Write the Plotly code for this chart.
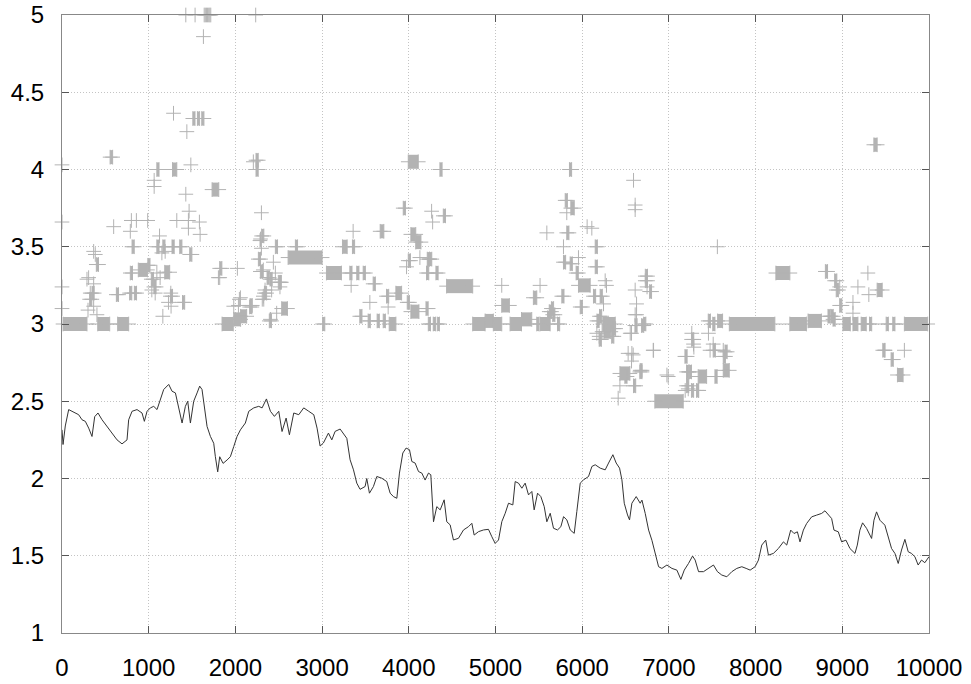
import plotly.graph_objects as go

# ---------------- data ----------------
x_ticks = [0, 1000, 2000, 3000, 4000, 5000, 6000, 7000, 8000, 9000, 10000]
x_tick_labels = ["0", "1000", "2000", "3000", "4000", "5000", "6000", "7000", "8000", "9000", "10000"]
y_ticks = [1, 1.5, 2, 2.5, 3, 3.5, 4, 4.5, 5]
y_tick_labels = ["1", "1.5", "2", "2.5", "3", "3.5", "4", "4.5", "5"]

# black line series
line_x = [0, 12, 38, 77, 115, 154, 192, 231, 269, 308, 346, 377, 415, 462, 519, 577, 635, 692, 750, 769,
          808, 865, 923, 950, 981, 1019, 1058, 1096, 1135, 1173, 1231, 1269, 1308, 1346, 1385, 1423, 1450,
          1481, 1519, 1558, 1588, 1615, 1642, 1673, 1712, 1750, 1769, 1796, 1819, 1858, 1904, 1942, 1981,
          2019, 2058, 2115, 2154, 2212, 2269, 2308, 2358, 2404, 2450, 2500, 2538, 2585, 2623, 2673, 2731,
          2788, 2846, 2904, 2942,
          2977, 3015, 3073, 3112, 3150, 3208, 3254, 3285, 3323, 3362, 3400, 3438, 3496, 3515, 3546, 3592,
          3631, 3688, 3746, 3785, 3823, 3862, 3892, 3931, 3969, 4008, 4035, 4073, 4112, 4150, 4188, 4227,
          4254, 4285, 4323, 4362, 4408, 4438, 4477, 4515, 4573, 4631, 4688, 4727, 4754, 4804, 4862, 4919,
          4958, 4996, 5035, 5073, 5112, 5150, 5200, 5227, 5265, 5304, 5342, 5381, 5419, 5446, 5485, 5523,
          5562, 5592, 5631, 5669, 5715, 5754, 5785, 5823, 5862, 5908, 5938, 5977, 6015, 6073, 6112, 6150,
          6208, 6265, 6304, 6354, 6392, 6431, 6458, 6485, 6523, 6546, 6573, 6623, 6669,
          6689, 6727, 6766, 6804, 6843, 6881, 6919, 6977, 7035, 7092, 7138, 7177, 7226, 7273, 7303, 7342,
          7399, 7457, 7514, 7560, 7610, 7668, 7726, 7783, 7841, 7891, 7937, 7994, 8033, 8071, 8117, 8148,
          8205, 8263, 8321, 8359, 8405, 8443, 8482, 8512, 8551, 8589, 8647, 8704, 8762, 8800, 8839, 8877,
          8904, 8954, 8992, 9042, 9088, 9146, 9173, 9203, 9234, 9280, 9338, 9365, 9395, 9434, 9491, 9530,
          9568, 9607, 9645, 9683, 9722, 9760, 9798, 9837, 9875, 9914, 9952, 10000]
line_y = [2.315, 2.22, 2.34, 2.446, 2.435, 2.424, 2.413, 2.38, 2.37, 2.326, 2.272, 2.40, 2.424, 2.38, 2.337,
          2.293, 2.25, 2.224, 2.25, 2.38, 2.435, 2.446, 2.424, 2.37, 2.435, 2.457, 2.467, 2.446, 2.52, 2.576,
          2.609, 2.565, 2.554, 2.467, 2.359, 2.467, 2.5, 2.359, 2.5, 2.554, 2.598, 2.576, 2.467, 2.337, 2.272,
          2.228, 2.141, 2.043, 2.141, 2.098, 2.12, 2.141, 2.207, 2.272, 2.315, 2.359, 2.435, 2.457, 2.467,
          2.457, 2.515, 2.435, 2.402, 2.435, 2.304, 2.391, 2.283, 2.424, 2.413, 2.457, 2.435, 2.413, 2.326,
          2.21, 2.23, 2.294, 2.25, 2.305, 2.32, 2.284, 2.26, 2.121, 2.056, 1.97, 1.93, 1.948, 2.0, 1.905, 1.948,
          2.013, 2.002, 1.98, 1.905, 1.883, 1.872, 2.035, 2.165, 2.197, 2.186, 2.11, 2.1, 2.045, 2.035, 1.99,
          2.035, 2.024, 1.72, 1.818, 1.797, 1.862, 1.72, 1.70, 1.602, 1.613, 1.667, 1.688, 1.71, 1.634, 1.656,
          1.667, 1.671, 1.623, 1.58, 1.602, 1.721, 1.775, 1.84, 1.829, 1.98, 1.97, 1.937, 1.97, 1.894, 1.916,
          1.797, 1.905, 1.883, 1.818, 1.72, 1.775, 1.678, 1.667, 1.688, 1.753, 1.732, 1.667, 1.645, 1.786,
          1.97, 1.991, 2.013, 2.078, 2.089, 2.067, 2.056, 2.1, 2.154, 2.1, 2.067, 1.991, 1.84, 1.764, 1.732,
          1.84, 1.883, 1.84,
          1.86, 1.774, 1.666, 1.60, 1.515, 1.429, 1.418, 1.44, 1.418, 1.407, 1.347, 1.407, 1.45, 1.498, 1.472,
          1.397, 1.397, 1.418, 1.44, 1.397, 1.375, 1.364, 1.397, 1.418, 1.429, 1.418, 1.407, 1.429, 1.472,
          1.569, 1.601, 1.504, 1.515, 1.547, 1.59, 1.569, 1.666, 1.644, 1.655, 1.59, 1.666, 1.709, 1.752,
          1.763, 1.774, 1.791, 1.763, 1.741, 1.666, 1.655, 1.59, 1.601, 1.547, 1.515, 1.569, 1.666, 1.713,
          1.677, 1.612, 1.73, 1.784, 1.73, 1.698, 1.623, 1.547, 1.515, 1.45, 1.537, 1.606, 1.526, 1.515,
          1.494, 1.44, 1.472, 1.455, 1.494]

# isolated "+" points
pt_x = [0, 0, 0, 0, 1631, 1286, 1440, 1063, 1063, 1486, 1428, 1466, 1458, 1324, 1585, 1458, 1593,
        596, 800, 858, 988, 788, 384, 365, 307, 288, 365, 326, 300, 403, 365, 1036, 1075, 1125, 1190,
        1152, 1094, 1132, 1258, 1255, 1228, 1163, 1819, 1804, 2046, 2035, 1981, 2058, 2023, 2207,
        2300, 2290, 2284, 2300, 2322, 2342, 2322, 2310, 2327, 2418, 2438, 2514, 2461, 2404, 2476,
        3358, 3335, 3551, 3762, 3974, 4128, 4263, 4275, 5072, 5514, 5592, 5784, 5822, 5957, 6057,
        6111, 6246, 6265, 6280, 6592, 6611, 6611, 6748, 6611, 6611, 6169, 6554,
        6627, 6627, 6569, 6819, 6530, 6588, 6569, 6415, 6435, 6573, 6992, 7288, 7511, 7627, 7223,
        6823, 7284, 7475, 6977, 7188, 7341, 7559, 8970, 9180, 9295, 9306, 9123, 9123, 7264, 7456,
        9490, 9716, 6196, 6230,
        1428, 1535, 2234, 1640, 1653, 1666, 1679, 1692, 1704, 1716]
pt_y = [4.03, 3.66, 3.24, 3.10, 4.86, 4.364, 4.245, 3.93, 3.89, 4.03, 3.84, 3.73, 3.67, 3.67, 3.66, 3.62, 3.58,
        3.63, 3.67, 3.67, 3.67, 3.60, 3.45, 3.47, 3.30, 3.29, 3.26, 3.20, 3.09, 3.06, 3.115, 3.22, 3.20, 3.57, 3.47,
        3.46, 3.33, 3.30, 3.115, 3.20, 3.14, 3.05, 3.30, 3.30, 3.16, 3.12, 3.115, 3.17, 3.36, 4.05,
        3.72, 3.55, 3.54, 3.49, 3.35, 3.22, 3.18, 3.16, 3.16, 3.22, 3.40, 3.24, 3.33, 3.03, 3.07,
        3.60, 3.25, 3.14, 3.11, 3.37, 3.43, 3.73, 3.66, 3.25, 3.25, 3.59, 3.50, 3.72, 3.43, 3.63,
        3.62, 3.13, 3.28, 3.25, 3.93, 3.77, 3.74, 3.24, 3.22, 3.06, 2.94, 2.94,
        3.13, 3.06, 2.94, 2.83, 2.81, 2.80, 2.76, 2.52, 2.60, 2.81, 2.66, 2.85, 2.87, 2.83, 2.58,
        2.83, 2.87, 2.83, 2.67, 2.57, 2.57, 3.50, 3.24, 3.24, 3.33, 3.19, 3.14, 3.07, 2.94, 2.94,
        2.83, 2.83, 2.92, 2.95,
        5.0, 5.0, 5.0, 5.0, 5.0, 5.0, 5.0, 5.0, 5.0, 5.0]

# runs where the value stays constant (start, end, level)
run_start = [12, 412, 642, 880, 1731, 1846, 1981, 2060, 2608, 2534, 3050, 3235, 3670, 3774, 3851, 3994,
             4024, 4024, 4080, 4436, 5072, 4737, 4880, 4975, 5168, 5300, 5514, 5437, 5869, 5957, 6238,
             6250, 6435, 6838, 7338, 7627, 7562, 7697, 8234, 8395, 8605, 9007, 9123, 9218, 9716, 9402,
             9364, 9636, 6778, 1275, 555, 1185, 2512, 6669,
             # short bars
             1509, 1562, 1612, 1094, 808, 396, 319, 346, 627, 780, 835, 788, 1030, 1060, 1094, 1163,
             1269, 1358, 1473, 1250, 1390, 1819, 2165, 2238, 2238, 2303, 2265, 2288, 2365, 2335, 2399,
             2461, 2495, 2391, 2692, 3006, 2169, 990,
             3350, 3320, 3400, 3474, 3589, 3435, 3531, 3635, 3705, 3743, 3936, 3982, 3994, 4359, 4213,
             4240, 4205, 4313, 4398, 4198, 4225, 4282, 4328, 5476, 5645, 5660, 5715, 5765, 5822, 5784,
             5861, 5853, 5804, 5930, 5977, 6150, 6150, 6130, 6207, 6728, 6608, 6685, 6665, 6492, 6592,
             7262, 7185, 7511, 7627, 7454, 7506, 7204, 7235, 7531, 7204, 7319, 7647, 7260, 6340, 6360,
             6728, 6709, 8805, 8912, 8930, 8970, 8835, 8870, 8893, 9314, 9506, 9582, 9467, 9563, 6196,
             5600, 5620, 6170, 6200]
run_end = [288, 550, 769, 985, 1808, 1975, 2060, 2130, 3000, 2600, 3223, 3289, 3712, 3851, 3917, 4109,
           4117, 4080, 4140, 4737, 5160, 4880, 4975, 5072, 5300, 5418, 5630, 5476, 5908, 6092, 6381,
           6330, 6550, 7165, 7435, 7696, 7619, 8222, 8395, 8586, 8759, 9092, 9180, 9276, 9985, 9460,
           9402, 9701, 6800, 1324, 584, 1242, 2530, 6690,
           1534, 1587, 1637, 1119, 833, 421, 344, 371, 652, 805, 860, 813, 1055, 1085, 1119, 1188,
           1294, 1383, 1498, 1275, 1415, 1844, 2190, 2263, 2263, 2328, 2290, 2313, 2390, 2360, 2424,
           2486, 2520, 2416, 2717, 3031, 2194, 1015,
           3375, 3345, 3425, 3499, 3614, 3460, 3556, 3660, 3730, 3768, 3961, 4007, 4019, 4384, 4238,
           4265, 4230, 4338, 4423, 4223, 4250, 4307, 4353, 5501, 5670, 5685, 5740, 5790, 5847, 5809,
           5886, 5878, 5829, 5955, 6002, 6175, 6175, 6155, 6232, 6753, 6633, 6710, 6690, 6517, 6617,
           7287, 7210, 7536, 7652, 7479, 7531, 7229, 7260, 7556, 7229, 7344, 7672, 7285, 6365, 6385,
           6753, 6734, 8830, 8937, 8955, 8995, 8860, 8895, 8918, 9339, 9531, 9607, 9492, 9588, 6221,
           5625, 5645, 6195, 6225]
run_level = [3.0, 3.0, 3.0, 3.35, 3.87, 3.0, 3.03, 3.05, 3.43, 3.10, 3.33, 3.50, 3.60, 3.0, 3.20, 4.05,
             3.08, 3.58, 3.53, 3.245, 3.12, 3.0, 3.02, 3.0, 3.0, 3.03, 3.0, 3.17, 3.75, 3.25, 3.0,
             2.95, 2.68, 2.50, 2.66, 2.70, 3.02, 3.0, 3.33, 3.0, 3.02, 3.0, 3.0, 3.0, 3.0, 3.22,
             4.16, 2.67, 3.21, 4.0, 4.08, 3.335, 3.27, 2.70,
             4.33, 4.33, 4.33, 4.0, 3.50, 3.385, 3.16, 3.20, 3.19, 3.20, 3.20, 3.33, 3.29, 3.24, 3.50, 3.50,
             3.50, 3.50, 3.45, 3.18, 3.14, 3.36, 3.11, 4.06, 4.0, 3.57, 3.42, 3.34, 3.30, 3.20, 3.29,
             3.50, 3.27, 3.02, 3.50, 3.0, 3.12, 3.38,
             3.50, 3.33, 3.33, 3.33, 3.26, 3.05, 3.02, 3.02, 3.02, 3.18, 3.75, 3.14, 3.41, 4.0, 3.42,
             3.42, 3.33, 3.33, 3.70, 3.10, 3.0, 3.0, 3.0, 3.0, 3.10, 3.06, 3.0, 3.18, 3.59, 3.40,
             3.39, 4.0, 3.80, 3.33, 3.11, 3.50, 3.37, 3.18, 3.18, 3.28, 2.99, 2.99, 2.69, 2.66, 2.60,
             2.90, 2.79, 2.83, 2.79, 3.02, 3.0, 2.69, 2.69, 2.66, 2.60, 2.57, 2.82, 2.57, 2.92, 2.97,
             3.31, 3.0, 3.34, 3.28, 3.22, 3.12, 3.05, 3.05, 3.03, 3.0, 3.0, 3.0, 2.83, 2.77, 2.90,
             3.04, 3.08, 3.02, 3.05]

# ---------------- figure ----------------
GREY = "#b3b3b3"
marker_style = dict(symbol="cross-thin", size=10.5, color=GREY, line=dict(color=GREY, width=1))

run_xs, run_ys = [], []
for s, e, lv in zip(run_start, run_end, run_level):
    run_xs += [s, e, None]
    run_ys += [lv, lv, None]

fig = go.Figure()
fig.add_trace(go.Scatter(x=run_xs, y=run_ys, mode="lines+markers",
                         line=dict(color=GREY, width=14), marker=marker_style,
                         cliponaxis=False, showlegend=False, hoverinfo="skip"))
fig.add_trace(go.Scatter(x=pt_x, y=pt_y, mode="markers", marker=marker_style,
                         cliponaxis=False, showlegend=False))
fig.add_trace(go.Scatter(x=line_x, y=line_y, mode="lines",
                         line=dict(color="#333333", width=1), showlegend=False))

axis_common = dict(
    showline=True, linecolor="#888888", linewidth=1, mirror="ticks",
    ticks="inside", ticklen=7, tickcolor="#555555", tickwidth=1,
    showgrid=True, gridcolor="#c4c4c4", griddash="1px,2px", gridwidth=1,
    zeroline=False, automargin=False, ticklabeloverflow="allow",
    tickfont=dict(family="Liberation Sans, Arial, sans-serif", size=24, color="black"),
)
fig.update_xaxes(range=[0, 10000], tickvals=x_ticks, ticktext=x_tick_labels,
                 ticklabelstandoff=13, **axis_common)
fig.update_yaxes(range=[1, 5], tickvals=y_ticks, ticktext=y_tick_labels,
                 ticklabelstandoff=12, **axis_common)

fig.update_layout(width=971, height=684, margin=dict(l=62, r=42, t=15, b=51, autoexpand=False),
                  paper_bgcolor="white", plot_bgcolor="white")

# remove the page's default body margin so the figure sits at the window's top-left corner
fig.write_html("out.html", config={"displayModeBar": False},
               post_script="document.body.style.margin='0px';")
